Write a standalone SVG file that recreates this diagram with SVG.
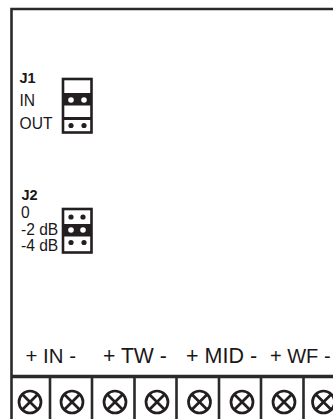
<svg xmlns="http://www.w3.org/2000/svg" width="333" height="419" viewBox="0 0 333 419">
<style>
text{font-family:"Liberation Sans",Arial,sans-serif;fill:#1a1718}
.l{font-size:15.6px}
.t{font-size:20.400px}
.b{font-size:14.500px;font-weight:bold}
.w{stroke:#2b2a2b;fill:none}
.c{fill:#fff;stroke:#231f20;stroke-width:2.700}
.x{stroke:#231f20;stroke-width:2.700;fill:none}
</style>
<defs>
<g id="screw"><circle class="c" r="11"/><path class="x" d="M-7.8-7.8L7.8 7.8M-7.8 7.8L7.8-7.8"/></g>
</defs>
<rect width="333" height="419" fill="#fff"/>
<g id="frame" class="w">
<path d="M333 9H11.500V419" stroke-width="2.600"/>
<path d="M11 376.500H333" stroke-width="3.500"/>
<path d="M50 377V419M92 377V419M134.500 377V419M176.500 377V419M219 377V419M261 377V419M303.500 377V419" stroke-width="2.600"/>
</g>
<g id="j1">
<text class="b" x="19.500" y="83">J1</text>
<text class="l" x="19.500" y="105.500">IN</text>
<text class="l" x="19.500" y="128.500">OUT</text>
<rect x="63" y="79" width="28.500" height="53.500" fill="#fff" stroke="#231f20" stroke-width="2.600"/>
<rect x="63" y="93" width="28.500" height="12.500" fill="#231f20"/>
<rect x="63" y="117" width="28.500" height="3" fill="#231f20"/>
<circle cx="71" cy="100" r="2.800" fill="#fff"/><circle cx="84" cy="100" r="2.800" fill="#fff"/>
<circle cx="71" cy="125.500" r="2.600" fill="#231f20"/><circle cx="84" cy="125.500" r="2.600" fill="#231f20"/>
</g>
<g id="j2">
<text class="b" x="21.500" y="199.500">J2</text>
<text class="l" x="21" y="217.500">0</text>
<text class="l" x="21" y="235">-2 dB</text>
<text class="l" x="21" y="250.500">-4 dB</text>
<rect x="63" y="209" width="28.500" height="43.500" fill="#fff" stroke="#231f20" stroke-width="2.600"/>
<rect x="63" y="224" width="28.500" height="12.500" fill="#231f20"/>
<circle cx="71" cy="217" r="2.600" fill="#231f20"/><circle cx="83" cy="217" r="2.600" fill="#231f20"/>
<circle cx="71" cy="230" r="2.800" fill="#fff"/><circle cx="83" cy="230" r="2.800" fill="#fff"/>
<circle cx="71" cy="242.500" r="2.600" fill="#231f20"/><circle cx="84" cy="242.500" r="2.600" fill="#231f20"/>
</g>
<g id="labels">
<text class="t" x="25.500" y="363">+ IN -</text>
<text class="t" x="103" y="363" style="font-size:21.200px">+ TW -</text>
<text class="t" x="186" y="363" style="font-size:21.500px">+ MID -</text>
<text class="t" x="270" y="363" style="font-size:20px">+ WF -</text>
</g>
<g id="screws">
<use href="#screw" x="30" y="402"/>
<use href="#screw" x="72" y="402"/>
<use href="#screw" x="115" y="402"/>
<use href="#screw" x="157" y="402"/>
<use href="#screw" x="199.500" y="402"/>
<use href="#screw" x="242" y="402"/>
<use href="#screw" x="284" y="402"/>
<use href="#screw" x="323.500" y="402"/>
</g>
</svg>
